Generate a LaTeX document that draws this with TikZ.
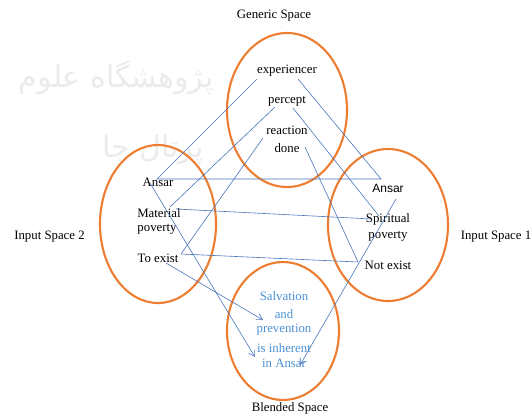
\documentclass[tikz,border=0pt]{standalone}
\usepackage{fontspec}
\setmainfont{Liberation Serif}
\newfontfamily\ansarfont{Liberation Sans}
\newfontfamily\arabicfont[Script=Arabic]{DejaVu Sans}
\TeXXeTstate=1
\usetikzlibrary{arrows.meta}
\definecolor{ringorange}{HTML}{ED7D31}
\definecolor{linkblue}{HTML}{4A74BC}
\definecolor{blendblue}{HTML}{4A90D4}
\tikzset{
  ring/.style={draw=ringorange, line width=2.1pt},
  lbl/.style={inner sep=0pt, font=\fontsize{12.8}{15}\selectfont},
  blendtxt/.style={lbl, text=blendblue},
  link/.style={draw=linkblue, line width=0.6pt},
  maplink/.style={link, -{Straight Barb[length=6pt,width=7pt]}},
  watermark/.style={inner sep=0pt, text=black!8, font=\arabicfont\fontsize{30}{34}\selectfont}
}
\begin{document}
\begin{tikzpicture}[x=1pt,y=-1pt]
\useasboundingbox (0,0) rectangle (531,416);

% faint background watermark
\begin{scope}
\clip (0,0) rectangle (531,416);
\node[watermark, anchor=east] (wmA) at (214,78) {\beginR پژوهشگاه علوم\endR};
\node[watermark, anchor=east] (wmB) at (204,150) {\beginR پرتال جا\endR};
\end{scope}

% the four mental spaces
\draw[ring] (287,110) ellipse [x radius=60, y radius=77];
\draw[ring] (158,224) ellipse [x radius=58, y radius=79];
\draw[ring] (388,225) ellipse [x radius=60, y radius=76];
\draw[ring] (283,331) ellipse [x radius=56, y radius=69];

% space titles
\node[lbl] (tGen) at (274,16) {Generic Space};
\node[lbl] (tIn2) at (49.5,237) {Input Space 2};
\node[lbl] (tIn1) at (496,237) {Input Space 1};
\node[lbl] (tBl) at (290,408) {Blended Space};

% generic space
\node[lbl] (exp) at (287,71) {experiencer};
\node[lbl] (perc) at (287,101) {percept};
\node[lbl] (react) at (287,130) {reaction};
\node[lbl] (done) at (287,148) {done};

% input space 2
\node[lbl] (ansL) at (158,182) {Ansar};
\node[lbl] (mat) at (159,213) {Material};
\node[lbl] (matp) at (157,229) {poverty};
\node[lbl] (toex) at (158,258) {To exist};

% input space 1
\node[inner sep=0pt, font=\ansarfont\fontsize{12}{14}\selectfont] (ansR) at (388,188) {Ansar};
\node[lbl] (spir) at (388,219) {Spiritual};
\node[lbl] (spirp) at (388,236) {poverty};
\node[lbl] (notex) at (388,265) {Not exist};

% blended space
\node[blendtxt] (b1) at (284,296) {Salvation};
\node[blendtxt] (b2) at (284,314) {and};
\node[blendtxt] (b3) at (284,330) {prevention};
\node[blendtxt] (b4) at (284,348) {is inherent};
\node[blendtxt] (b5) at (284,363) {in Ansar};

% connector end points
\coordinate (expL) at (257,79);
\coordinate (expR) at (298,79);
\coordinate (percL) at (275,107);
\coordinate (percR) at (293,108);
\coordinate (reactL) at (263,138);
\coordinate (doneR) at (305,147);
\coordinate (ansLr) at (157,179);
\coordinate (ansLb) at (150,183);
\coordinate (ansRl) at (381,179);
\coordinate (ansRb) at (396,199);
\coordinate (matR) at (176,209);
\coordinate (matT) at (170,207);
\coordinate (spirL) at (372,219);
\coordinate (spirT) at (379,216);
\coordinate (toexR) at (181,254);
\coordinate (toexB) at (166,263);
\coordinate (notexL) at (358,262);
\coordinate (blA) at (255,357);
\coordinate (blB) at (263,320);
\coordinate (blC) at (300,365);

% cross-space mappings
\draw[link] (expL) -- (ansLr) -- (ansRl) -- (expR);
\draw[link] (percL) -- (matT);
\draw[link] (matR) -- (spirL);
\draw[link] (percR) -- (spirT);
\draw[link] (reactL) -- (toexR);
\draw[link] (doneR) -- (notexL);
\draw[link] (toexR) -- (notexL);

% projections into the blend
\draw[maplink] (ansLb) -- (blA);
\draw[maplink] (toexB) -- (blB);
\draw[maplink] (ansRb) -- (blC);
\end{tikzpicture}
\end{document}
